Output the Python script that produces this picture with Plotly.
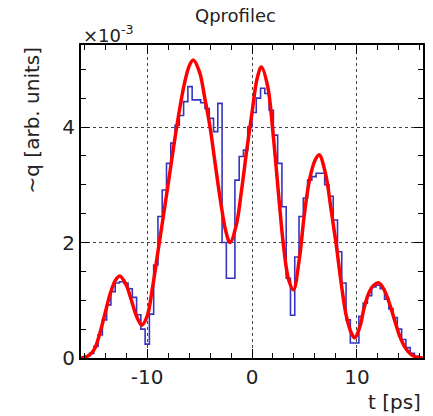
import numpy as np
import plotly.graph_objects as go

# ---------------- data (values in units of 1e-3) ----------------
X_MIN, X_MAX, N_BINS = -16.3, 16.3, 80
HIST_VALUES = [
    0.0, 0.03, 0.08, 0.2, 0.4, 0.66, 0.92, 1.15, 1.3, 1.32,
    1.3, 1.2, 1.05, 0.75, 0.5, 0.24, 0.76, 1.61, 2.45, 2.91,
    3.37, 3.72, 4.03, 4.2, 4.44, 4.70, 4.47, 4.47, 4.42, 4.32,
    4.15, 3.92, 4.41, 2.0, 1.38, 1.38, 3.08, 3.49, 3.6, 4.0,
    4.25, 4.5, 4.67, 4.58, 4.29, 3.86, 3.37, 2.62, 1.38, 0.74,
    1.75, 2.45, 2.77, 3.08, 3.14, 3.2, 3.2, 3.0, 2.8, 2.39,
    1.84, 1.3, 0.66, 0.26, 0.26, 0.72, 0.95, 1.08, 1.23, 1.26,
    1.2, 1.02, 0.85, 0.7, 0.5, 0.32, 0.18, 0.08, 0.03, 0.0,
]

FIT_T = [
    -16.3, -16.0, -15.5, -15.0, -14.5, -14.0, -13.5, -13.0, -12.6, -12.0,
    -11.5, -11.0, -10.5, -10.0, -9.5, -9.0, -8.5, -8.0, -7.5, -7.0,
    -6.5, -6.0, -5.6, -5.0, -4.5, -4.0, -3.5, -3.0, -2.5, -2.1,
    -1.5, -1.0, -0.5, 0.0, 0.5, 0.9, 1.5, 2.0, 2.5, 3.0,
    3.5, 3.95, 4.5, 5.0, 5.5, 6.0, 6.4, 7.0, 7.5, 8.0,
    8.5, 9.0, 9.5, 9.8, 10.3, 10.7, 11.2, 11.6, 12.1, 12.6,
    13.2, 13.6, 14.1, 14.6, 15.1, 15.6, 16.3,
]
FIT_V = [
    0.0, 0.01, 0.05, 0.16, 0.43, 0.78, 1.12, 1.35, 1.42, 1.27,
    1.0, 0.72, 0.57, 0.72, 1.2, 1.8, 2.4, 3.0, 3.62, 4.2,
    4.7, 5.05, 5.16, 4.95, 4.5, 4.0, 3.35, 2.72, 2.2, 2.0,
    2.3, 2.9, 3.6, 4.25, 4.85, 5.04, 4.7, 3.9, 2.9, 1.95,
    1.35, 1.18, 1.7, 2.5, 3.1, 3.42, 3.52, 3.2, 2.62, 2.0,
    1.3, 0.72, 0.42, 0.35, 0.55, 0.88, 1.15, 1.26, 1.3, 1.18,
    0.89, 0.65, 0.37, 0.18, 0.07, 0.02, 0.0,
]

X_TICKS = [-10, 0, 10]
X_TICK_TEXT = ["-10", "0", "10"]
Y_TICKS = [0, 2, 4]
Y_TICK_TEXT = ["0", "2", "4"]
Y_RANGE = [0, 5.42]

TITLE = "Qprofilec"
X_LABEL = "t [ps]"
Y_LABEL = "~q [arb. units]"
EXPONENT = "×10<sup>-3</sup>"

# ---------------- figure ----------------
edges = np.linspace(X_MIN, X_MAX, N_BINS + 1)
hx = list(edges)
hy = list(HIST_VALUES) + [HIST_VALUES[-1]]

FONT = "DejaVu Sans"

fig = go.Figure()
fig.add_trace(go.Scatter(
    x=hx, y=hy, mode="lines", line=dict(shape="hv", color="#3535c0", width=1.6),
    showlegend=False, hoverinfo="skip"))
fig.add_trace(go.Scatter(
    x=FIT_T, y=FIT_V, mode="lines",
    line=dict(shape="spline", smoothing=1.0, color="#ff0000", width=3.5),
    showlegend=False, hoverinfo="skip"))

axis_common = dict(
    showline=True, linecolor="black", linewidth=2, mirror="allticks",
    ticks="inside", ticklen=9, tickwidth=1.3, tickcolor="black",
    showgrid=True, gridcolor="#444", griddash="3px,3px", gridwidth=1,
    zeroline=False,
    tickfont=dict(family=FONT, size=20, color="#222"),
)

fig.update_xaxes(
    range=[X_MIN, X_MAX], tickvals=X_TICKS, ticktext=X_TICK_TEXT,
    minor=dict(dtick=2, ticks="inside", ticklen=5, tickcolor="black", showgrid=False),
    **axis_common)
fig.update_yaxes(
    range=Y_RANGE, tickvals=Y_TICKS, ticktext=Y_TICK_TEXT,
    minor=dict(dtick=0.5, ticks="inside", ticklen=5, tickcolor="black", showgrid=False),
    **axis_common)

fig.update_layout(
    width=433, height=416,
    margin=dict(l=81, r=8, t=45, b=58),
    paper_bgcolor="white", plot_bgcolor="white",
    font=dict(family=FONT, color="#222"),
    annotations=[
        dict(text=TITLE, xref="paper", yref="paper", x=0.452, y=1.093,
             xanchor="center", yanchor="middle", showarrow=False,
             font=dict(family=FONT, size=18, color="#222")),
        dict(text=EXPONENT, xref="paper", yref="paper", x=0.0, y=1.035,
             xanchor="left", yanchor="middle", showarrow=False,
             font=dict(family=FONT, size=18, color="#222")),
        dict(text=X_LABEL, xref="paper", yref="paper", x=1.0, y=-0.14,
             xanchor="right", yanchor="middle", showarrow=False,
             font=dict(family=FONT, size=20, color="#222")),
        dict(text=Y_LABEL, xref="paper", yref="paper", x=-0.142, y=1.0,
             xanchor="center", yanchor="top", showarrow=False, textangle=-90,
             font=dict(family=FONT, size=20, color="#222")),
    ],
)

fig.write_html("out.html")
